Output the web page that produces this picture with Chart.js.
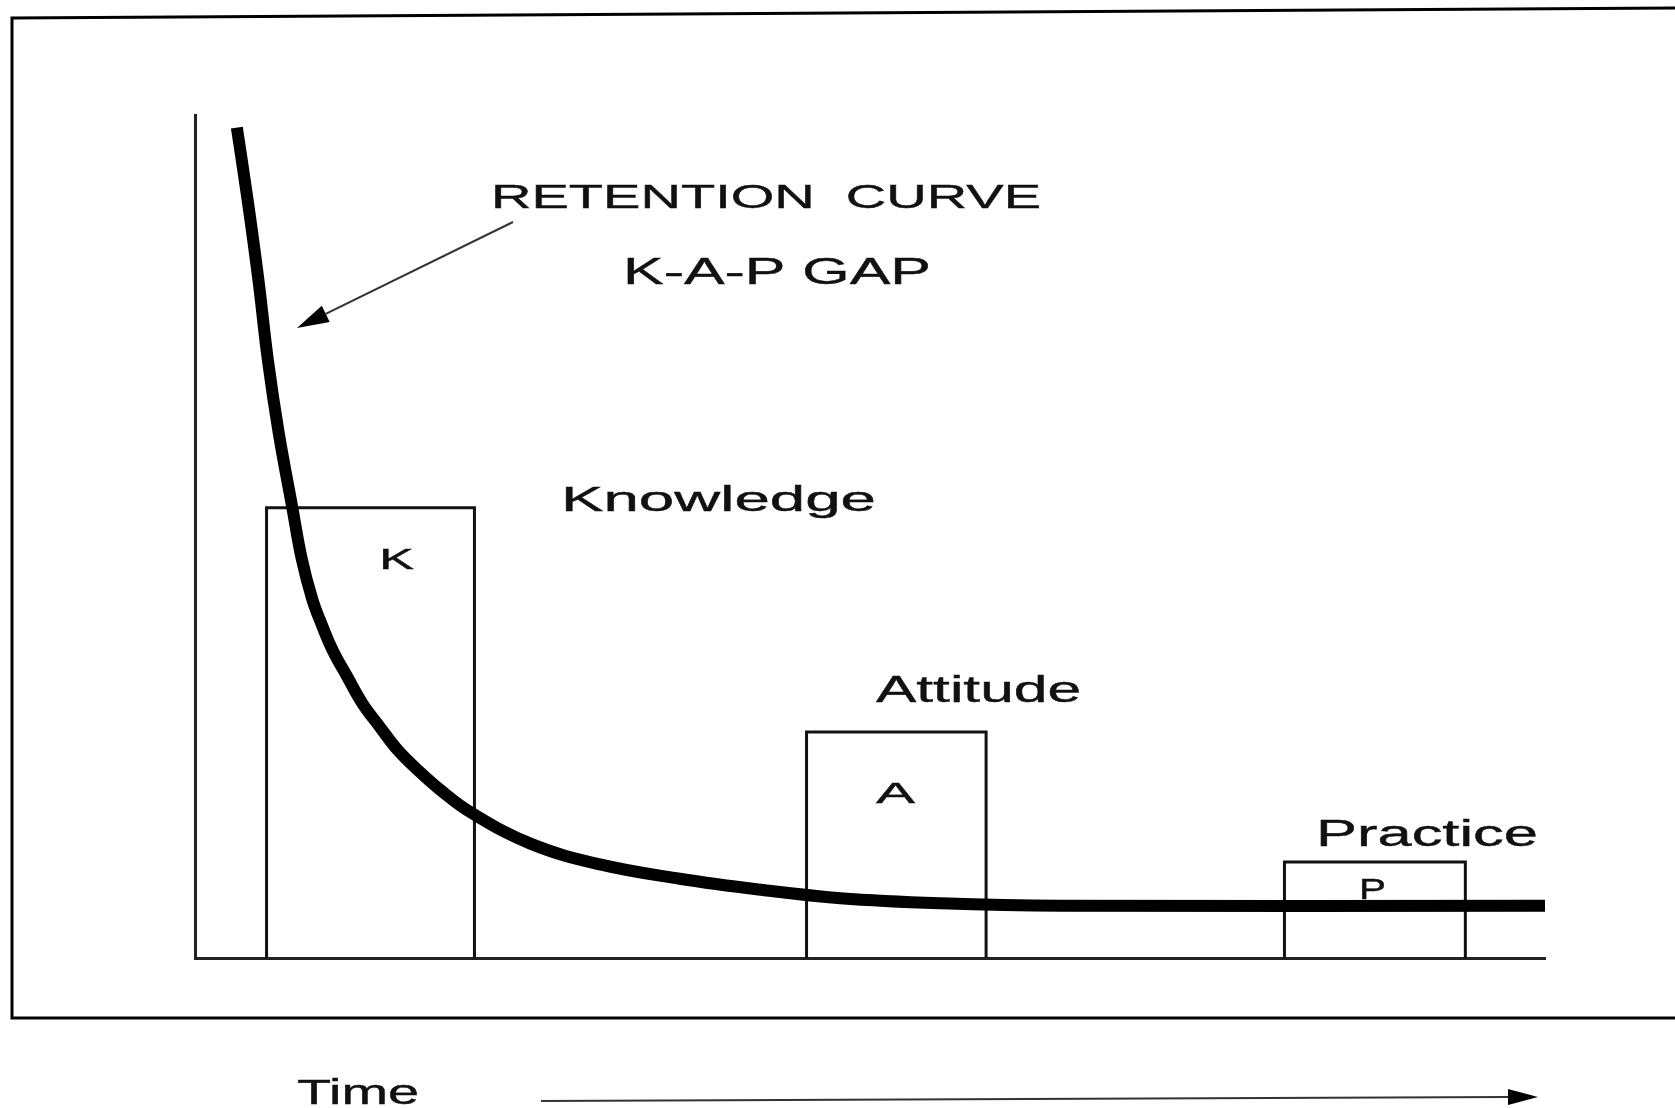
<!DOCTYPE html>
<html>
<head>
<meta charset="utf-8">
<title>K-A-P gap</title>
<script src="https://cdn.jsdelivr.net/npm/chart.js@4.4.0/dist/chart.umd.min.js"></script>
<style>
  body { margin: 0; background: #fff; }
</style>
</head>
<body>
<canvas id="kap" width="1675" height="1108"></canvas>

<script>
// retention curve, time on x (0-100), level on y (0-100)
var curveTime  = [3.1, 3.9, 4.7, 5.4, 6.2, 7.2, 7.9, 8.7, 9.4, 10.2, 11.3, 12.4, 13.7, 15.0, 16.5, 18.2, 20.4, 24.8, 30.0, 35.9, 41.9, 47.8, 55.2, 64.1, 100]
var curveLevel = [98.5, 89.9, 80.4, 70.9, 62.3, 53.5, 47.4, 42.5, 39.5, 36.5, 33.3, 30.2, 27.4, 24.7, 22.3, 19.9, 17.3, 13.6, 11.1, 9.4, 8.1, 7.1, 6.5, 6.2, 6.2]

// the three boxes
var boxLetters = ['K', 'A', 'P']
var boxNames   = ['Knowledge', 'Attitude', 'Practice']
var boxStart   = [5.3, 45.3, 80.7]
var boxEnd     = [20.7, 58.6, 94.1]
var boxHeight  = [53.4, 26.8, 11.4]

var headings = ['RETENTION  CURVE', 'K-A-P GAP']
var timeLabel = 'Time'

// where the texts sit on the page: [left, right, baseline, font size]
var textSpots = {
  'RETENTION  CURVE': [491, 1041, 208, 34],
  'K-A-P GAP': [623, 931, 284, 36],
  'Knowledge': [561, 876, 511, 35],
  'Attitude': [876, 1081, 702, 36],
  'Practice': [1316, 1538, 846, 36],
  'K': [379, 414, 569, 30],
  'A': [876, 915, 803, 30],
  'P': [1359, 1386, 899, 29],
  'Time': [297, 419, 1104, 35]
}

var curve = curveTime.map(function(t, i) { return {x: t, y: curveLevel[i]} })

var datasets = [{
  label: 'Retention curve',
  data: curve,
  borderColor: '#000',
  borderWidth: 12,
  pointRadius: 0,
  tension: 0.4,
  fill: false
}]

boxLetters.forEach(function(k, i) {
  datasets.push({
    label: boxNames[i],
    data: [
      {x: boxStart[i], y: 0},
      {x: boxStart[i], y: boxHeight[i]},
      {x: boxEnd[i], y: boxHeight[i]},
      {x: boxEnd[i], y: 0}
    ],
    borderColor: '#111',
    borderWidth: 3,
    borderJoinStyle: 'miter',
    pointRadius: 0,
    tension: 0,
    fill: false
  })
})

function stretchText(ctx, str) {
  var s = textSpots[str]
  ctx.font = s[3] + 'px "Liberation Sans", Arial, sans-serif'
  var w = ctx.measureText(str).width
  ctx.save()
  ctx.translate(s[0], s[2])
  ctx.scale((s[1] - s[0]) / w, 1)
  ctx.fillText(str, 0, 0)
  ctx.lineWidth = 0.4
  ctx.strokeText(str, 0, 0)
  ctx.restore()
}

function arrow(ctx, x0, y0, x1, y1, len, half) {
  var a = Math.atan2(y1 - y0, x1 - x0)
  var bx = x1 - len * Math.cos(a), by = y1 - len * Math.sin(a)
  ctx.beginPath()
  ctx.moveTo(x0, y0)
  ctx.lineTo(bx, by)
  ctx.stroke()
  ctx.beginPath()
  ctx.moveTo(x1, y1)
  ctx.lineTo(bx + half * Math.sin(a), by - half * Math.cos(a))
  ctx.lineTo(bx - half * Math.sin(a), by + half * Math.cos(a))
  ctx.closePath()
  ctx.fill()
}

var decor = {
  id: 'decor',
  afterDraw: function(chart) {
    var ctx = chart.ctx
    ctx.save()
    // scanned frame round the figure
    ctx.strokeStyle = '#000'
    ctx.lineWidth = 3
    ctx.beginPath()
    ctx.moveTo(1675, 8)
    ctx.lineTo(12, 18)
    ctx.lineTo(12, 1018)
    ctx.lineTo(1675, 1018)
    ctx.stroke()

    ctx.fillStyle = '#111'
    ctx.strokeStyle = '#111'
    ctx.textBaseline = 'alphabetic'
    headings.concat(boxNames, boxLetters, [timeLabel]).forEach(function(t) {
      stretchText(ctx, t)
    })

    ctx.strokeStyle = '#333'
    ctx.fillStyle = '#000'
    ctx.lineWidth = 2
    arrow(ctx, 513, 222, 297, 328, 32, 9)
    arrow(ctx, 541, 1101, 1538, 1097, 30, 8)
    ctx.restore()
  }
}

new Chart(document.getElementById('kap'), {
  type: 'line',
  data: { datasets: datasets },
  options: {
    responsive: false,
    animation: false,
    layout: { padding: { left: 195, right: 130, top: 115, bottom: 150 } },
    plugins: { legend: { display: false }, tooltip: { enabled: false } },
    scales: {
      x: {
        type: 'linear', min: 0, max: 100,
        grid: { display: false, drawTicks: false },
        ticks: { display: false },
        border: { display: true, color: '#222', width: 3 }
      },
      y: {
        type: 'linear', min: 0, max: 100,
        grid: { display: false, drawTicks: false },
        ticks: { display: false },
        border: { display: true, color: '#222', width: 3 }
      }
    }
  },
  plugins: [decor]
})
</script>
</body>
</html>
